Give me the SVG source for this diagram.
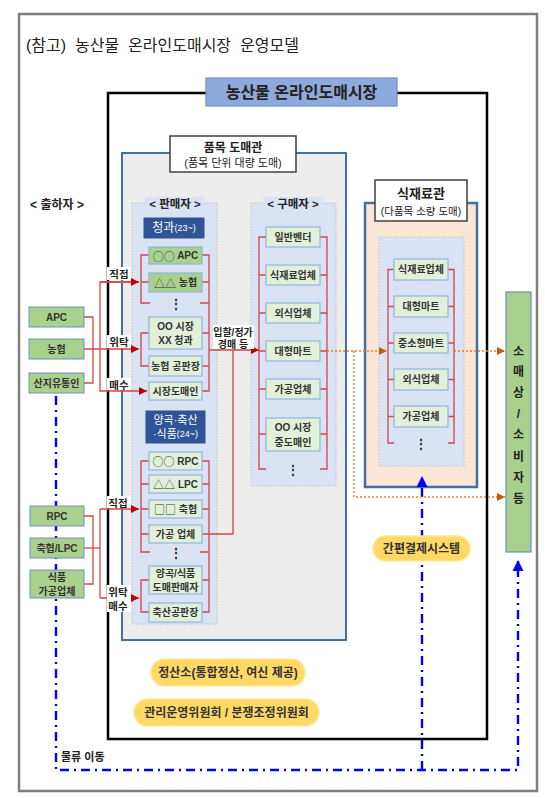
<svg xmlns="http://www.w3.org/2000/svg" width="545" height="798" viewBox="0 0 545 798">
<defs>
<style>
text{font-family:"Liberation Sans","Noto Sans CJK KR",sans-serif;fill:#222;text-anchor:middle;dominant-baseline:central}
.b{font-weight:bold}
.sy{font-family:"Noto Sans CJK KR",sans-serif;font-weight:normal;font-size:11px}
.sh{fill:#A9D18E;stroke:#6E8FBF;stroke-width:1}
.dk{fill:#A9D18E;stroke:#8FB4E0;stroke-width:1.2}
.lt{fill:#E2F0D9;stroke:#8FB4E0;stroke-width:1.2}
.nv{fill:#2F5597;stroke:#2F5597}
.nvt{fill:#fff;font-size:11px}
.bt{font-size:10px;font-weight:bold;fill:#333}
.rd{fill:none;stroke:#D4464A;stroke-width:1.3}
.or{fill:none;stroke:#ED7D31;stroke-width:1.4;stroke-dasharray:2 2}
.bl{fill:none;stroke:#0000FF;stroke-width:2.4;stroke-dasharray:9 5 2 5}
.dc{fill:#DAE3F3;stroke:#BFBFBF;stroke-width:1;stroke-dasharray:1.5 1.5}
.pill{fill:#FFD966;stroke:#FFE699;stroke-width:1.5}
.pt{font-size:12px;font-weight:bold;fill:#333}
.lab{font-size:10.5px;font-weight:bold;fill:#222}
.wb{fill:#fff}
</style>
<marker id="ar" viewBox="0 0 10 10" refX="10" refY="5" markerWidth="8" markerHeight="8" markerUnits="userSpaceOnUse" orient="auto"><path d="M0,0 L10,5 L0,10z" fill="#C00000"/></marker>
<marker id="ao" viewBox="0 0 10 10" refX="10" refY="5" markerWidth="8" markerHeight="8" markerUnits="userSpaceOnUse" orient="auto"><path d="M0,0 L10,5 L0,10z" fill="#C55A11"/></marker>
<marker id="ab" viewBox="0 0 10 10" refX="10" refY="5" markerWidth="11" markerHeight="11" markerUnits="userSpaceOnUse" orient="auto"><path d="M0,0 L10,5 L0,10z" fill="#0000FF"/></marker>
</defs>
<rect x="0" y="0" width="545" height="798" fill="#fff"/>
<rect x="19" y="14" width="518" height="777" fill="#fff" stroke="#7F7F7F" stroke-width="2.5"/>
<text x="26" y="45" xml:space="preserve" style="text-anchor:start;font-size:16px">(참고)  농산물  온라인도매시장  운영모델</text>

<g id="market">
<rect x="108" y="93" width="379" height="646" fill="#fff" stroke="#000" stroke-width="2.5"/>
</g>
<g id="market-title">
<rect x="206" y="78" width="191" height="28" fill="#8EA9DB" stroke="#6F8FC9" stroke-width="1.2"/>
<text x="301.5" y="92" class="b" style="font-size:16px">농산물 온라인도매시장</text>
</g>

<g id="panel-item">
<rect x="122" y="153" width="224" height="487" fill="#EDEDED" stroke="#41719C" stroke-width="2"/>
<rect x="170" y="136" width="126" height="36" fill="#fff" stroke="#404040" stroke-width="1.5"/>
<text x="233" y="148" class="b" style="font-size:12px">품목 도매관</text>
<text x="233" y="163" style="font-size:11px">(품목 단위 대량 도매)</text>
</g>

<g id="panel-food">
<rect x="365" y="203" width="112" height="284" fill="#FBE5D6" stroke="#41719C" stroke-width="2.5"/>
<rect x="379" y="237" width="85" height="229" class="dc"/>
<rect x="375" y="180" width="92" height="41" fill="#fff" stroke="#404040" stroke-width="1.5"/>
<text x="421" y="193" class="b" style="font-size:13px">식재료관</text>
<text x="421" y="211" style="font-size:10.5px">(다품목 소량 도매)</text>
</g>

<g id="seller-container">
<rect x="132" y="203" width="85" height="421" class="dc"/>
<rect x="145" y="197" width="59" height="13" fill="#DAE3F3"/>
<text x="175" y="204" class="b" style="font-size:11.5px">&lt; 판매자 &gt;</text>
</g>
<g id="buyer-container">
<rect x="251" y="203" width="85" height="283" class="dc"/>
<rect x="263" y="197" width="60" height="13" fill="#DAE3F3"/>
<text x="293" y="204" class="b" style="font-size:11.5px">&lt; 구매자 &gt;</text>
</g>

<g id="connectors">
<path class="bl" d="M56,396 V770 H518 V560" marker-end="url(#ab)"/>
<path class="bl" d="M422,770 V476" marker-end="url(#ab)"/>
<path class="rd" d="M84,317 H93 V383 H84"/>
<path class="rd" d="M84,349 H139" marker-end="url(#ar)"/>
<path class="rd" d="M139,282 H100 V391 H147" marker-end="url(#ar)"/>
<path class="rd" d="M100,282 H139" marker-end="url(#ar)"/>
<path class="rd" d="M84,516 H93 V584 H84"/>
<path class="rd" d="M84,548 H100"/>
<path class="rd" d="M100,509 V598"/>
<path class="rd" d="M100,509 H139" marker-end="url(#ar)"/>
<path class="rd" d="M100,598 H139" marker-end="url(#ar)"/>
<path class="rd" d="M149,255 H141 V303 H150 M141,282 H149"/>
<path class="rd" d="M149,333 H141 V366 H149"/>
<path class="rd" d="M202,255 H209 V391 H202 M202,282 H209 M200,303 H209 M202,333 H209 M202,366 H209"/>
<path class="rd" d="M149,461 H141 V552 H150 M141,484 H149 M141,509 H149 M141,534 H149"/>
<path class="rd" d="M149,580 H141 V612 H149"/>
<path class="rd" d="M202,461 H209 V612 H202 M202,484 H209 M202,509 H209 M200,552 H209 M202,580 H209"/>
<path class="rd" d="M202,534 H233 V350"/>
<path class="rd" d="M209,350 H259" marker-end="url(#ar)"/>
<path class="rd" d="M266,237 H259 V469 H266 M259,275 H266 M259,313 H266 M259,351 H266 M259,389 H266 M259,434 H266"/>
<path class="rd" d="M320,237 H327 V469 H320 M320,275 H327 M320,313 H327 M320,351 H327 M320,389 H327 M320,434 H327"/>
<path class="rd" d="M394,269.5 H388 V443 H394 M388,306.5 H394 M388,343 H394 M388,379.5 H394 M388,416.5 H394"/>
<path class="rd" d="M448,269.5 H454 V443 H448 M448,306.5 H454 M448,343 H454 M448,379.5 H454 M448,416.5 H454"/>
<path class="or" d="M327,351 H387" marker-end="url(#ao)"/>
<path class="or" d="M354,351 V497 H505" marker-end="url(#ao)"/>
<path class="or" d="M454,351 H505" marker-end="url(#ao)"/>
<rect x="107" y="267" width="24" height="13" class="wb"/>
<text x="119" y="274" class="lab">직접</text>
<rect x="107" y="335" width="24" height="13" class="wb"/>
<text x="119" y="342" class="lab">위탁</text>
<rect x="107" y="378" width="24" height="12" class="wb"/>
<text x="119" y="385" class="lab">매수</text>
<rect x="107" y="496" width="24" height="12" class="wb"/>
<text x="118" y="503" class="lab">직접</text>
<rect x="107" y="585" width="24" height="27" class="wb"/>
<text x="118" y="592" class="lab">위탁</text>
<text x="118" y="606" class="lab">매수</text>
<rect x="213" y="325" width="41" height="24" class="wb"/>
<text x="233" y="332" class="lab" style="font-size:10px">입찰/정가</text>
<text x="233" y="344" class="lab" style="font-size:10px">경매 등</text>
<text x="61" y="757" class="lab" style="text-anchor:start;font-size:11px">물류 이동</text>
</g>

<g id="shipper-label"><text x="57" y="205" class="b" style="font-size:12px">&lt; 출하자 &gt;</text></g>
<g id="s-apc"><rect x="29" y="307" width="55" height="20" class="sh"/><text x="56.5" y="317" class="bt">APC</text></g>
<g id="s-nh"><rect x="29" y="339" width="55" height="20" class="sh"/><text x="56.5" y="349" class="bt">농협</text></g>
<g id="s-sj"><rect x="29" y="373" width="55" height="20" class="sh"/><text x="56.5" y="383" class="bt">산지유통인</text></g>
<g id="s-rpc"><rect x="30" y="506" width="54" height="20" class="sh"/><text x="57" y="516" class="bt">RPC</text></g>
<g id="s-lpc"><rect x="30" y="538" width="54" height="20" class="sh"/><text x="57" y="548" class="bt">축협/LPC</text></g>
<g id="s-food"><rect x="30" y="570" width="54" height="28" class="sh"/><text x="57" y="577" class="bt">식품</text><text x="57" y="591" class="bt">가공업체</text></g>

<g id="cat-fruit"><rect x="144" y="218" width="60" height="20" class="nv"/><text x="174" y="228" class="nvt"><tspan style="font-size:12px">청과</tspan><tspan style="font-size:9px">(23~)</tspan></text></g>
<g id="v-apc"><rect x="149" y="247" width="53" height="17" class="dk"/><text x="175.5" y="255.5" class="bt"><tspan class="sy">○○</tspan> APC</text></g>
<g id="v-nh"><rect x="149" y="273" width="53" height="19" class="dk"/><text x="175.5" y="282.5" class="bt"><tspan class="sy">△△</tspan> 농협</text></g>
<g id="v-dots1"><text x="175.5" y="304" class="b" style="font-size:12px">⋮</text></g>
<g id="v-oo"><rect x="149" y="317" width="53" height="32" class="lt"/><text x="175.5" y="326" class="bt">OO 시장</text><text x="175.5" y="340" class="bt">XX 청과</text></g>
<g id="v-gp"><rect x="149" y="356" width="53" height="20" class="lt"/><text x="175.5" y="366" class="bt">농협 공판장</text></g>
<g id="v-sd"><rect x="149" y="382" width="53" height="18" class="lt"/><text x="175.5" y="391" class="bt">시장도매인</text></g>

<g id="cat-grain"><rect x="146" y="411" width="59" height="32" class="nv"/><text x="175.5" y="420" class="nvt">양곡·축산</text><text x="175.5" y="434" class="nvt">·식품<tspan style="font-size:9px">(24~)</tspan></text></g>
<g id="v-rpc"><rect x="149" y="452" width="53" height="18" class="lt"/><text x="175.5" y="461" class="bt"><tspan class="sy">○○</tspan> RPC</text></g>
<g id="v-lpc"><rect x="149" y="475" width="53" height="18" class="lt"/><text x="175.5" y="484" class="bt"><tspan class="sy">△△</tspan> LPC</text></g>
<g id="v-ch"><rect x="149" y="500" width="53" height="18" class="lt"/><text x="175.5" y="509" class="bt"><tspan class="sy">□□</tspan> 축협</text></g>
<g id="v-gg"><rect x="149" y="525" width="53" height="18" class="lt"/><text x="175.5" y="534" class="bt">가공 업체</text></g>
<g id="v-dots2"><text x="175.5" y="553" class="b" style="font-size:12px">⋮</text></g>
<g id="v-yg"><rect x="149" y="566" width="53" height="28" class="lt"/><text x="175.5" y="573" class="bt">양곡/식품</text><text x="175.5" y="587" class="bt">도매판매자</text></g>
<g id="v-cs"><rect x="149" y="603" width="53" height="19" class="lt"/><text x="175.5" y="612.5" class="bt">축산공판장</text></g>

<g id="b-vendor"><rect x="266" y="227" width="54" height="20" class="lt"/><text x="293" y="237" class="bt">일반벤더</text></g>
<g id="b-food"><rect x="266" y="265" width="54" height="20" class="lt"/><text x="293" y="275" class="bt">식재료업체</text></g>
<g id="b-rest"><rect x="266" y="303" width="54" height="20" class="lt"/><text x="293" y="313" class="bt">외식업체</text></g>
<g id="b-mart"><rect x="266" y="341" width="54" height="20" class="lt"/><text x="293" y="351" class="bt">대형마트</text></g>
<g id="b-proc"><rect x="266" y="379" width="54" height="20" class="lt"/><text x="293" y="389" class="bt">가공업체</text></g>
<g id="b-mid"><rect x="266" y="418" width="54" height="33" class="lt"/><text x="293" y="427" class="bt">OO 시장</text><text x="293" y="442" class="bt">중도매인</text></g>
<g id="b-dots"><text x="293" y="470" class="b" style="font-size:12px">⋮</text></g>

<g id="f-food"><rect x="394" y="259" width="54" height="21" class="lt"/><text x="421" y="269.5" class="bt">식재료업체</text></g>
<g id="f-mart"><rect x="394" y="296" width="54" height="21" class="lt"/><text x="421" y="306.5" class="bt">대형마트</text></g>
<g id="f-smart"><rect x="394" y="333" width="54" height="20" class="lt"/><text x="421" y="343" class="bt">중소형마트</text></g>
<g id="f-rest"><rect x="394" y="369" width="54" height="21" class="lt"/><text x="421" y="379.5" class="bt">외식업체</text></g>
<g id="f-proc"><rect x="394" y="406" width="54" height="21" class="lt"/><text x="421" y="416.5" class="bt">가공업체</text></g>
<g id="f-dots"><text x="421" y="444" class="b" style="font-size:12px">⋮</text></g>

<g id="retail">
<rect x="506" y="292" width="25" height="260" fill="#A9D18E" stroke="#6E8FBF" stroke-width="1.2"/>
<g class="b" style="font-size:12px">
<text x="518.5" y="352">소</text><text x="518.5" y="372">매</text><text x="518.5" y="393">상</text><text x="518.5" y="414">/</text><text x="518.5" y="435">소</text><text x="518.5" y="457">비</text><text x="518.5" y="478">자</text><text x="518.5" y="499">등</text>
</g>
</g>

<g id="pay"><rect x="373" y="536" width="97" height="25" rx="12.5" class="pill"/><text x="421.5" y="548.5" class="pt">간편결제시스템</text></g>
<g id="settle"><rect x="151" y="659" width="154" height="27" rx="13.5" class="pill"/><text x="228" y="672.5" class="pt">정산소(통합정산, 여신 제공)</text></g>
<g id="committee"><rect x="134" y="699" width="185" height="27" rx="13.5" class="pill"/><text x="226.5" y="712.5" class="pt">관리운영위원회 / 분쟁조정위원회</text></g>
</svg>
